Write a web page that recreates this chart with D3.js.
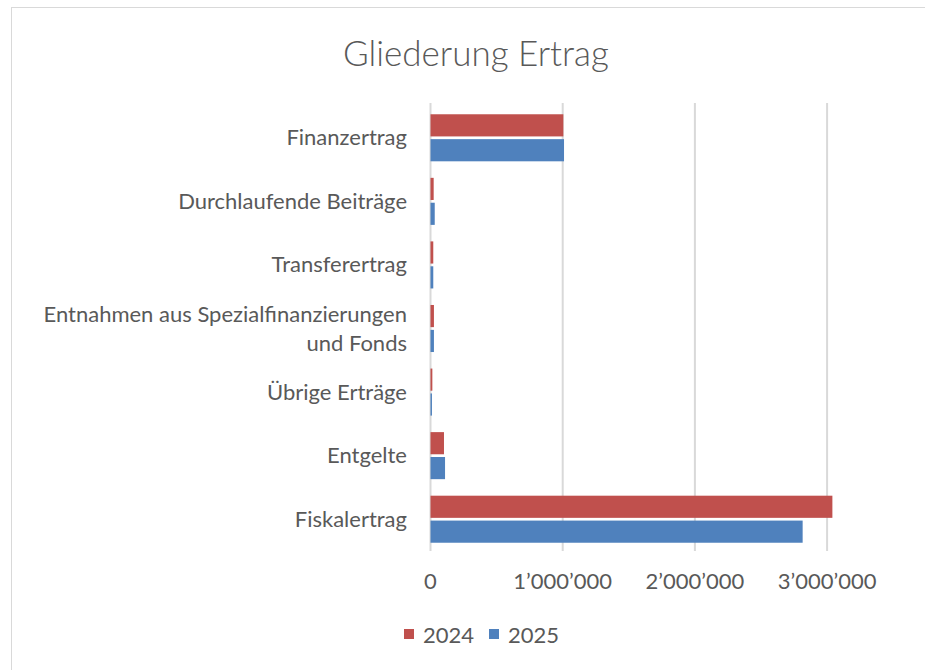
<!DOCTYPE html>
<html>
<head>
<meta charset="utf-8">
<script src="https://cdn.jsdelivr.net/npm/d3@7"></script>
<style>
  body { margin: 0; background: #fff; }
  svg text { font-family: Lato, "Open Sans", sans-serif; fill: #595959; }
</style>
</head>
<body>
<div id="chart"></div>
<script>
// categories from top to bottom
const categories = [
  "Finanzertrag",
  "Durchlaufende Beiträge",
  "Transferertrag",
  "Entnahmen aus Spezialfinanzierungen und Fonds",
  "Übrige Erträge",
  "Entgelte",
  "Fiskalertrag"
];
const seriesNames = ["2024", "2025"];
const values2024 = [1005000, 24000, 21000, 26000, 14000, 102000, 3040000];
const values2025 = [1010000, 32000, 21000, 26000, 11000, 110000, 2815000];
const xTicks = [0, 1000000, 2000000, 3000000];
const colors = ["#C0504D", "#4F81BD"];

const width = 925, height = 670;
const plot = { left: 430.5, right: 893, top: 106, bottom: 551 };

const svg = d3.select("#chart").append("svg")
  .attr("width", width)
  .attr("height", height);

// outer frame
svg.append("rect")
  .attr("x", 11.5).attr("y", 7.5)
  .attr("width", 930).attr("height", 680)
  .attr("fill", "none")
  .attr("stroke", "#D9D9D9")
  .attr("stroke-width", 1);

svg.append("text")
  .attr("x", 476).attr("y", 66)
  .attr("text-anchor", "middle")
  .attr("font-size", "35px")
  .attr("font-weight", 300)
  .text("Gliederung Ertrag");

const xScale = d3.scaleLinear()
  .domain([0, 3500000])
  .range([plot.left, plot.left + 132.2 * 3.5]);

const yScale = d3.scaleBand()
  .domain(categories)
  .range([plot.top, plot.bottom])
  .paddingInner(0.26)
  .paddingOuter(0.13);

const ySub = d3.scaleBand()
  .domain(seriesNames)
  .range([0, yScale.bandwidth()])
  .paddingInner(0.11);

// gridlines
svg.append("g")
  .selectAll("line")
  .data(xTicks)
  .enter()
  .append("line")
  .attr("x1", d => xScale(d))
  .attr("x2", d => xScale(d))
  .attr("y1", plot.top - 3)
  .attr("y2", plot.bottom)
  .attr("stroke", "#D9D9D9")
  .attr("stroke-width", 2);

// x tick labels
const fmt = d => d3.format(",")(d).replace(/,/g, "\u2019");
svg.append("g")
  .selectAll("text")
  .data(xTicks)
  .enter()
  .append("text")
  .attr("x", d => xScale(d))
  .attr("y", 589)
  .attr("text-anchor", "middle")
  .attr("font-size", "22px")
  .text(fmt);

// bars
const rows = categories.map((c, i) => ({ cat: c, vals: [values2024[i], values2025[i]] }));
const groups = svg.append("g")
  .selectAll("g")
  .data(rows)
  .enter()
  .append("g")
  .attr("transform", d => `translate(0,${yScale(d.cat)})`);

groups.selectAll("rect")
  .data(d => d.vals.map((v, j) => ({ name: seriesNames[j], v, j })))
  .enter()
  .append("rect")
  .attr("x", xScale(0))
  .attr("y", d => ySub(d.name))
  .attr("width", d => xScale(d.v) - xScale(0))
  .attr("height", ySub.bandwidth())
  .attr("fill", d => colors[d.j]);

// category labels
const labelLines = {
  "Entnahmen aus Spezialfinanzierungen und Fonds": ["Entnahmen aus Spezialfinanzierungen", "und Fonds"]
};
categories.forEach(c => {
  const lines = labelLines[c] || [c];
  const cy = yScale(c) + yScale.bandwidth() / 2;
  const t = svg.append("text")
    .attr("x", 407)
    .attr("text-anchor", "end")
    .attr("font-size", "22px");
  lines.forEach((l, k) => {
    t.append("tspan")
      .attr("x", 407)
      .attr("y", cy + 7.5 + (k - (lines.length - 1) / 2) * 29)
      .text(l);
  });
});

// legend
const legend = svg.append("g").attr("transform", "translate(404,629)");
seriesNames.forEach((s, i) => {
  const g = legend.append("g").attr("transform", `translate(${i * 85},0)`);
  g.append("rect").attr("width", 10).attr("height", 10).attr("fill", colors[i]);
  g.append("text").attr("x", 19).attr("y", 14).attr("font-size", "22px").text(s);
});
</script>
</body>
</html>
